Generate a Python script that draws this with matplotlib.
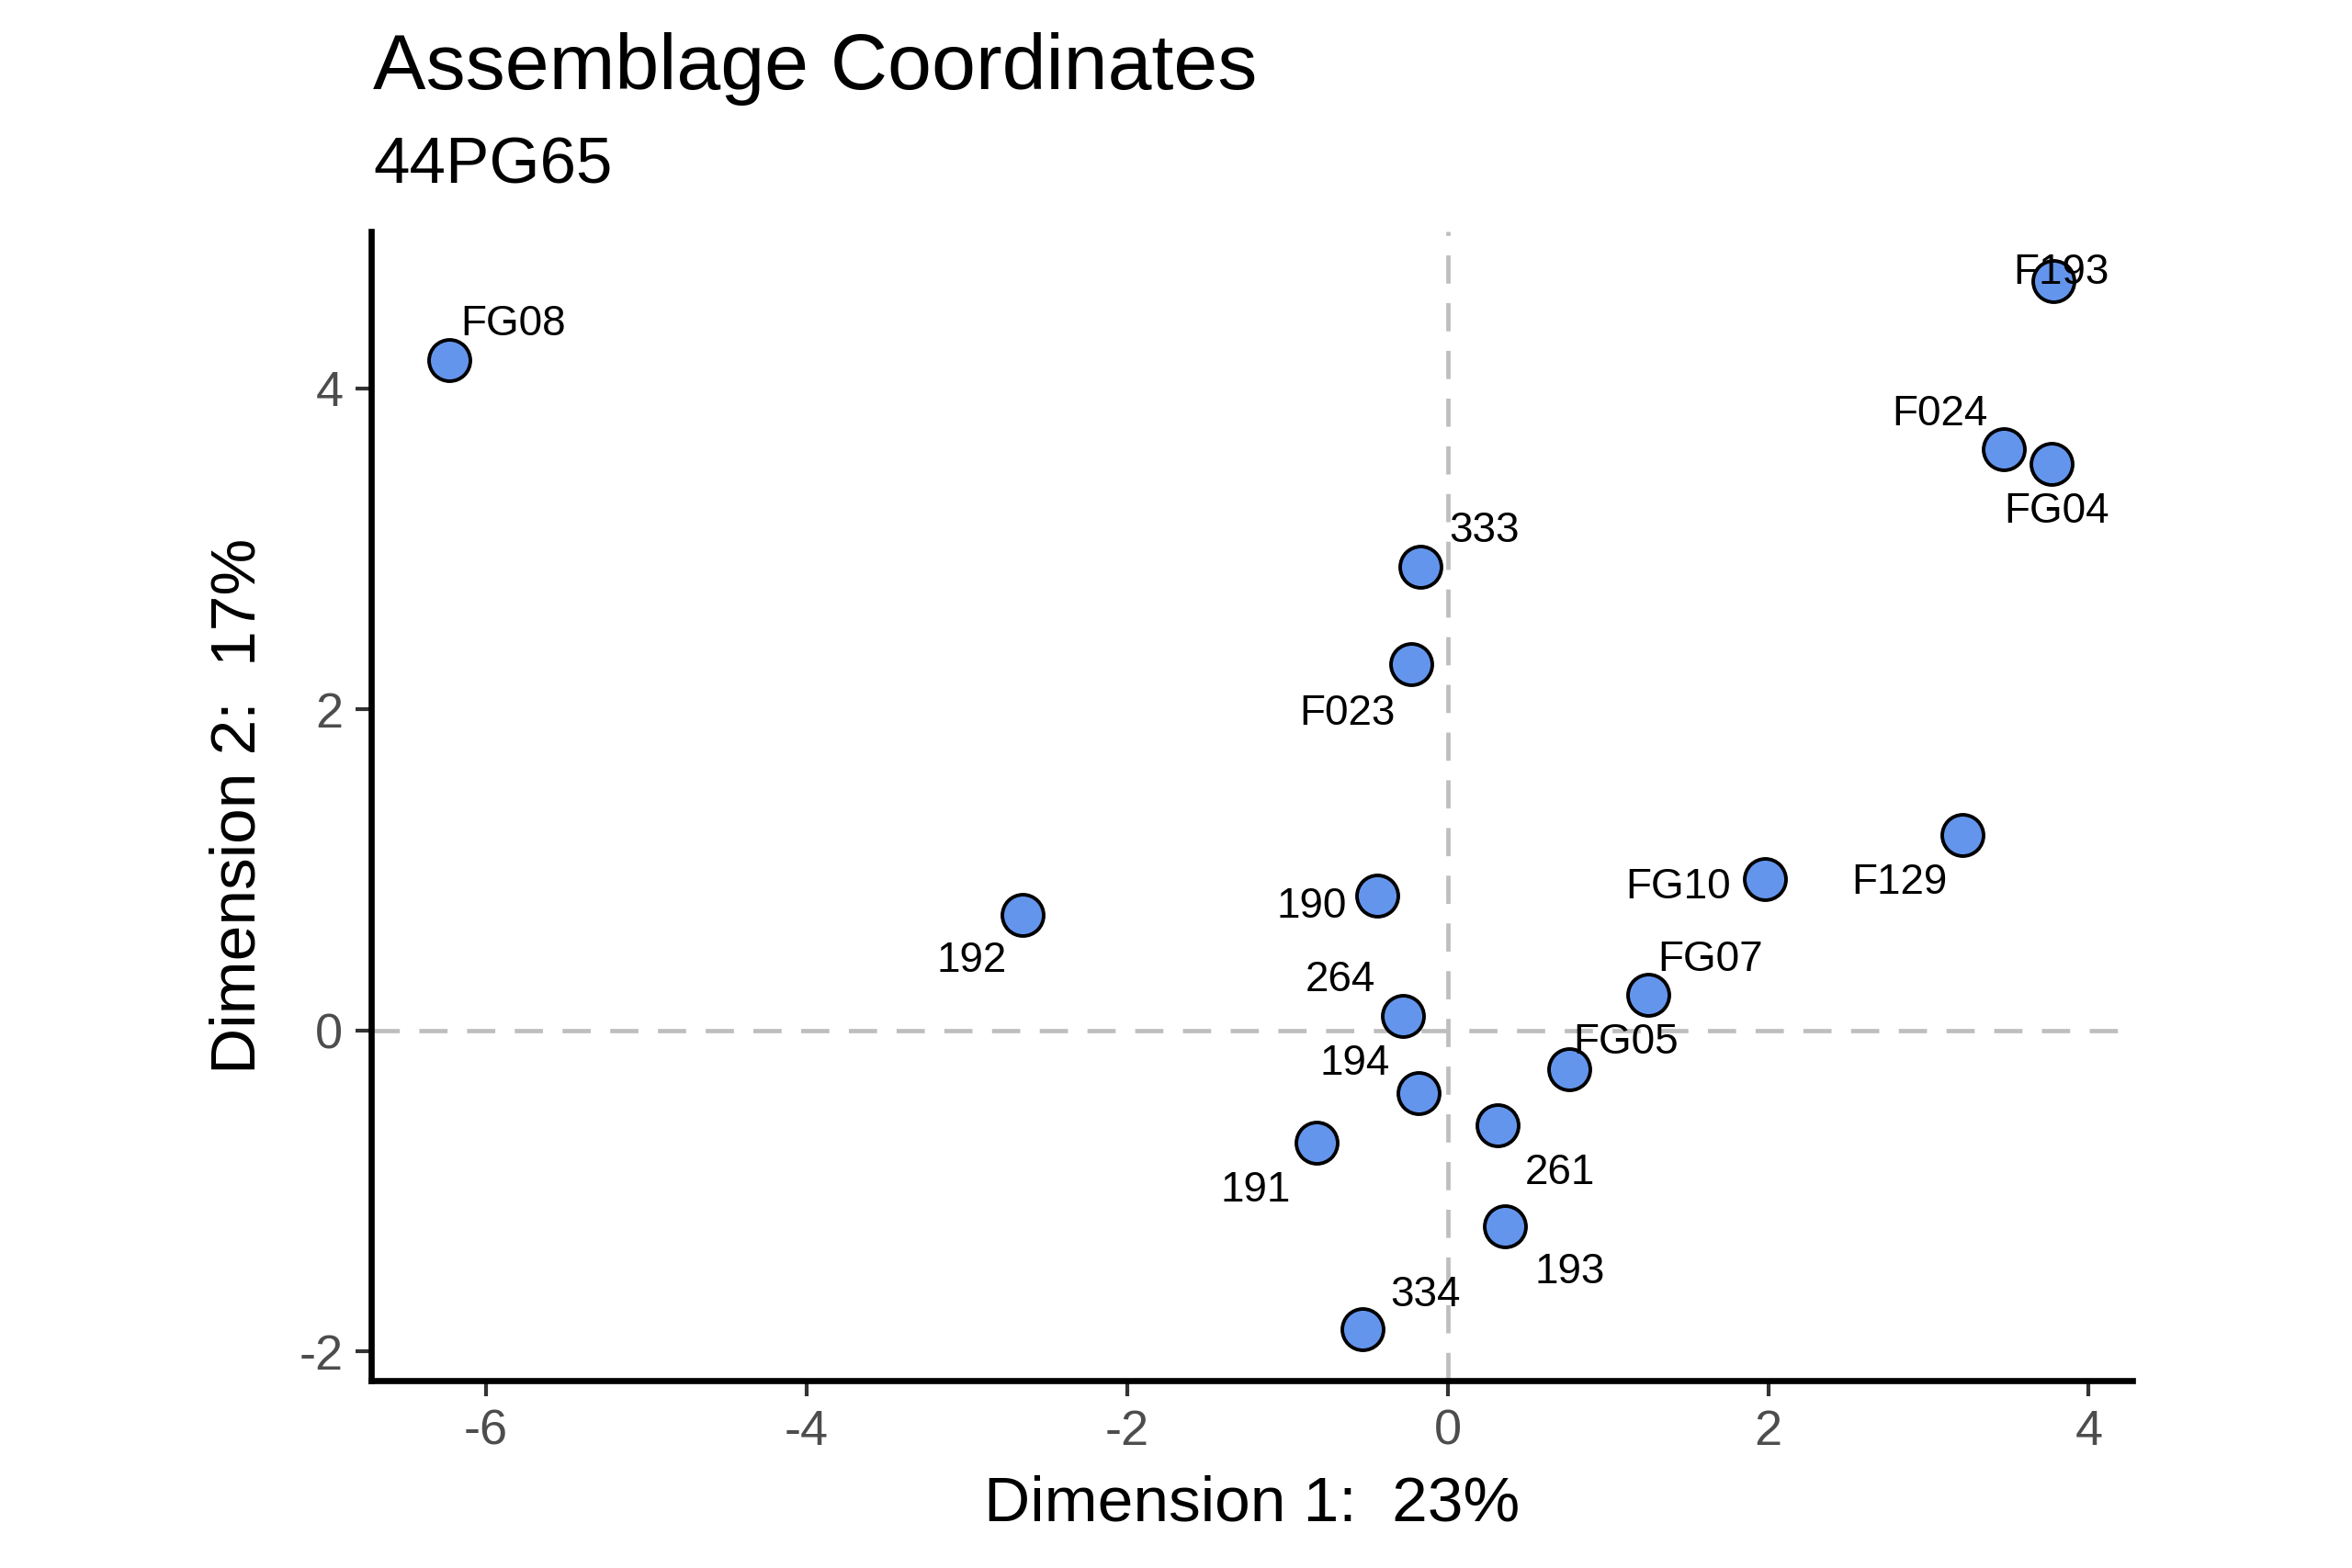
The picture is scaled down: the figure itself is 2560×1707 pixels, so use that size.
import matplotlib
matplotlib.use("Agg")
from matplotlib import pyplot as plt

plt.rcParams['font.family'] = ['Liberation Sans', 'DejaVu Sans']
plt.rcParams['axes.unicode_minus'] = False

# assemblage coordinates
sites = ['FG08', 'F193', 'F024', 'FG04', '333', 'F023', 'F129', 'FG10', '192',
         '190', 'FG07', '264', 'FG05', '194', '261', '191', '193', '334']
dim1 = [-6.23, 3.78, 3.47, 3.77, -0.17, -0.225, 3.21, 1.98, -2.65,
        -0.44, 1.25, -0.28, 0.76, -0.18, 0.31, -0.82, 0.36, -0.53]
dim2 = [4.18, 4.67, 3.62, 3.53, 2.89, 2.28, 1.22, 0.94, 0.72,
        0.84, 0.22, 0.09, -0.24, -0.39, -0.59, -0.70, -1.22, -1.86]

# repelled label offsets (data units)
lab_dx = [0.40, 0.05, -0.40, 0.03, 0.40, -0.40, -0.39, -0.54, -0.32,
          -0.41, 0.39, -0.39, 0.35, -0.40, 0.39, -0.38, 0.40, 0.39]
lab_dy = [0.25, 0.08, 0.25, -0.27, 0.25, -0.28, -0.27, -0.02, -0.26,
          -0.04, 0.25, 0.25, 0.19, 0.21, -0.27, -0.27, -0.26, 0.24]

fig = plt.figure(figsize=(12.8, 8.535), dpi=200)
ax = fig.add_axes([0.1578, 0.1195, 0.749, 0.7329])

ax.axhline(0, color='#BEBEBE', linestyle=(0, (6.5, 4.5)), linewidth=1.7, zorder=1)
ax.axvline(0, color='#BEBEBE', linestyle=(0, (6.5, 4.5)), linewidth=1.7, zorder=1)

ax.scatter(dim1, dim2, s=262, color='#6495ED', edgecolor='black',
           linewidth=1.4, zorder=3)

for name, x, y, dx, dy in zip(sites, dim1, dim2, lab_dx, lab_dy):
    ax.text(x + dx, y + dy, name, ha='center', va='center_baseline',
            fontsize=16.5, color='black', zorder=4)

ax.set_xlim(-6.716, 4.275)
ax.set_ylim(-2.183, 4.979)
ax.set_xticks([-6, -4, -2, 0, 2, 4])
ax.set_yticks([-2, 0, 2, 4])

for side in ['top', 'right']:
    ax.spines[side].set_visible(False)
for side in ['left', 'bottom']:
    ax.spines[side].set_linewidth(2.4)
    ax.spines[side].set_color('black')
    ax.spines[side].set_capstyle('projecting')

ax.tick_params(axis='both', length=6, width=1.5, color='#333333',
               labelsize=19.5, labelcolor='#4D4D4D', pad=5)

ax.set_xlabel('Dimension 1:  23%', fontsize=25, labelpad=8)
ax.set_ylabel('Dimension 2:  17%', fontsize=25, labelpad=12)

fig.text(0.1586, 0.943, 'Assemblage Coordinates', fontsize=31, ha='left', va='baseline')
fig.text(0.1586, 0.883, '44PG65', fontsize=25.5, ha='left', va='baseline')

fig.savefig('out.png', dpi=200, facecolor='white')
